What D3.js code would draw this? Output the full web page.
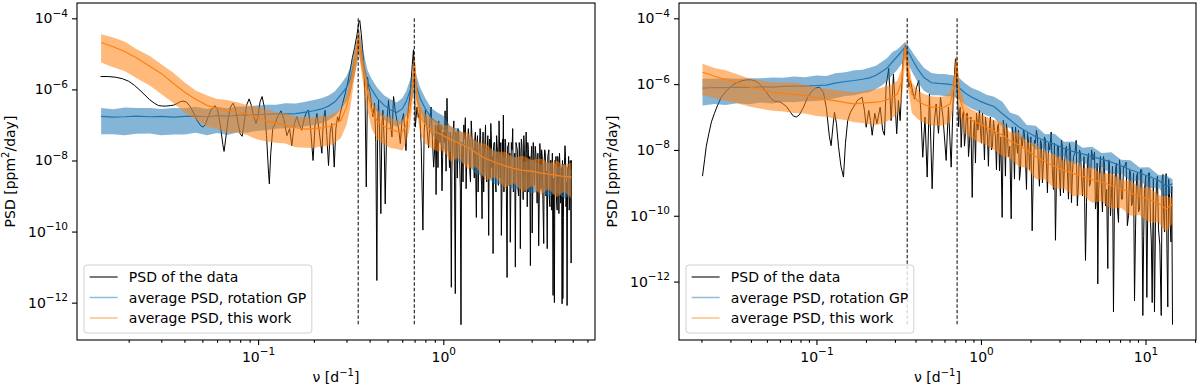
<!DOCTYPE html>
<html>
<head>
<meta charset="utf-8">
<script src="https://cdn.jsdelivr.net/npm/d3@7"></script>
<style>
  body { margin: 0; background: #fff; }
  text { font-family: "DejaVu Sans", sans-serif; }
</style>
</head>
<body>
<svg id="chart" width="1200" height="389"></svg>
<script>
// ---- left panel: band frequencies and averaged PSDs (ppm^2/day) ----
var freqBandL = [0.0142, 0.0165, 0.019, 0.022, 0.026, 0.030, 0.035, 0.040,
  0.046, 0.053, 0.060, 0.068, 0.077, 0.087, 0.098, 0.11,
  0.125, 0.14, 0.16, 0.18, 0.20, 0.22, 0.24, 0.26,
  0.28, 0.30, 0.315, 0.33, 0.34, 0.35, 0.36, 0.375,
  0.39, 0.41, 0.44, 0.48, 0.52, 0.56, 0.60, 0.63,
  0.66, 0.68, 0.70, 0.72, 0.75, 0.80, 0.86, 0.93,
  1.0, 1.1, 1.2, 1.35, 1.5, 1.7, 1.9, 2.15,
  2.4, 2.7, 3.0, 3.35, 3.7, 4.1, 4.5, 4.92];
var blueMedL = [1.74e-7, 1.66e-7, 1.7e-7, 1.78e-7, 1.7e-7, 1.74e-7, 1.66e-7, 1.74e-7,
  1.78e-7, 1.7e-7, 1.82e-7, 1.78e-7, 1.86e-7, 1.91e-7, 1.95e-7, 2.0e-7,
  2.04e-7, 2.04e-7, 2.09e-7, 2.29e-7, 2.51e-7, 2.82e-7, 3.39e-7, 4.47e-7,
  7.08e-7, 1.12e-6, 2.0e-6, 5.62e-6, 1.12e-5, 2.4e-5, 1.12e-5, 3.98e-6,
  1.66e-6, 1.0e-6, 5.62e-7, 3.55e-7, 2.63e-7, 2.24e-7, 2.82e-7, 4.47e-7,
  8.91e-7, 1.41e-6, 2.19e-6, 1.12e-6, 5.62e-7, 2.82e-7, 1.58e-7, 1.12e-7,
  7.94e-8, 5.01e-8, 3.55e-8, 2.51e-8, 1.66e-8, 1.12e-8, 8.91e-9, 7.08e-9,
  6.03e-9, 5.25e-9, 4.79e-9, 4.37e-9, 3.98e-9, 3.72e-9, 3.47e-9, 3.16e-9];
var blueHiL = [3.02e-7, 2.75e-7, 3.09e-7, 3.02e-7, 3.02e-7, 2.82e-7, 3.02e-7, 2.95e-7,
  3.24e-7, 2.82e-7, 3.24e-7, 2.95e-7, 3.31e-7, 3.24e-7, 3.55e-7, 3.72e-7,
  3.72e-7, 4.07e-7, 3.98e-7, 4.47e-7, 5.01e-7, 5.62e-7, 6.76e-7, 8.91e-7,
  1.41e-6, 2.34e-6, 4.27e-6, 1.2e-5, 2.45e-5, 5.25e-5, 2.45e-5, 8.51e-6,
  3.47e-6, 2.0e-6, 1.12e-6, 6.76e-7, 5.25e-7, 4.27e-7, 5.62e-7, 8.91e-7,
  1.78e-6, 2.82e-6, 4.37e-6, 2.24e-6, 1.12e-6, 5.62e-7, 3.02e-7, 2.24e-7,
  1.8e-7, 8.7e-8, 7.9e-8, 4.4e-8, 3.8e-8, 1.95e-8, 2.0e-8, 1.23e-8,
  1.38e-8, 9.1e-9, 1.07e-8, 7.6e-9, 9.1e-9, 6.4e-9, 7.8e-9, 5.5e-9];
var blueLoL = [5.5e-8, 5.5e-8, 5.13e-8, 5.62e-8, 5.75e-8, 5.13e-8, 5.37e-8, 5.37e-8,
  6.03e-8, 5.13e-8, 5.89e-8, 5.25e-8, 6.17e-8, 6.03e-8, 6.76e-8, 7.08e-8,
  7.76e-8, 8.13e-8, 8.32e-8, 9.12e-8, 1.0e-7, 1.12e-7, 1.35e-7, 1.78e-7,
  2.82e-7, 4.47e-7, 7.94e-7, 2.24e-6, 4.68e-6, 1.0e-5, 4.68e-6, 1.66e-6,
  6.61e-7, 3.98e-7, 2.24e-7, 1.41e-7, 1.05e-7, 8.91e-8, 1.12e-7, 1.78e-7,
  3.55e-7, 5.62e-7, 8.71e-7, 4.47e-7, 2.24e-7, 1.07e-7, 5.62e-8, 3.72e-8,
  2.1e-8, 1.7e-8, 8.9e-9, 8.3e-9, 4.1e-9, 3.6e-9, 2.1e-9, 2.3e-9,
  1.5e-9, 1.74e-9, 1.18e-9, 1.4e-9, 9.6e-10, 1.22e-9, 8.5e-10, 1.07e-9];
var orangeMedL = [2.09e-5, 1.58e-5, 1.17e-5, 7.76e-6, 4.47e-6, 2.82e-6, 1.45e-6, 8.51e-7,
  5.25e-7, 3.55e-7, 2.95e-7, 2.51e-7, 2.34e-7, 2.09e-7, 1.66e-7, 1.32e-7,
  1.12e-7, 1.0e-7, 8.32e-8, 7.59e-8, 7.94e-8, 8.32e-8, 8.91e-8, 1.05e-7,
  1.35e-7, 3.16e-7, 9.33e-7, 5.01e-6, 1.12e-5, 2.88e-5, 8.91e-6, 2.51e-6,
  7.94e-7, 2.51e-7, 1.26e-7, 8.91e-8, 7.59e-8, 6.61e-8, 6.31e-8, 1.0e-7,
  2.51e-7, 1.0e-6, 5.37e-6, 6.31e-7, 1.78e-7, 1.0e-7, 7.08e-8, 6.03e-8,
  5.01e-8, 3.8e-8, 3.16e-8, 2.4e-8, 1.66e-8, 1.12e-8, 8.91e-9, 7.08e-9,
  6.03e-9, 5.25e-9, 5.01e-9, 4.47e-9, 4.17e-9, 3.8e-9, 3.55e-9, 3.39e-9];
var orangeHiL = [3.55e-5, 2.88e-5, 2.24e-5, 1.38e-5, 8.71e-6, 5.13e-6, 2.88e-6, 1.58e-6,
  9.33e-7, 6.76e-7, 5.37e-7, 5.01e-7, 4.37e-7, 3.63e-7, 3.31e-7, 2.82e-7,
  2.24e-7, 2.14e-7, 1.66e-7, 1.66e-7, 1.58e-7, 1.78e-7, 1.78e-7, 2.19e-7,
  2.82e-7, 6.61e-7, 1.95e-6, 1.05e-5, 2.24e-5, 5.75e-5, 1.78e-5, 5.25e-6,
  1.66e-6, 5.01e-7, 2.63e-7, 1.78e-7, 1.62e-7, 1.32e-7, 1.32e-7, 2.09e-7,
  5.25e-7, 2.0e-6, 1.07e-5, 1.26e-6, 3.72e-7, 2.0e-7, 1.58e-7, 1.26e-7,
  1.0e-7, 9.5e-8, 6.4e-8, 6.1e-8, 3.46e-8, 2.85e-8, 1.8e-8, 1.75e-8,
  1.22e-8, 1.35e-8, 1.04e-8, 1.15e-8, 8.5e-9, 9.8e-9, 7.2e-9, 8.8e-9];
var orangeLoL = [5.75e-6, 4.17e-6, 3.31e-6, 2.09e-6, 1.29e-6, 7.41e-7, 4.07e-7, 2.24e-7,
  1.45e-7, 8.91e-8, 7.76e-8, 6.03e-8, 6.17e-8, 5.25e-8, 3.98e-8, 3.47e-8,
  3.16e-8, 3.02e-8, 2.34e-8, 2.29e-8, 2.24e-8, 2.51e-8, 2.51e-8, 3.16e-8,
  4.27e-8, 1.0e-7, 3.09e-7, 1.78e-6, 4.47e-6, 1.15e-5, 3.39e-6, 8.32e-7,
  2.51e-7, 7.94e-8, 3.8e-8, 2.82e-8, 2.24e-8, 2.09e-8, 1.91e-8, 3.16e-8,
  8.32e-8, 3.55e-7, 2.14e-6, 2.24e-7, 5.62e-8, 3.02e-8, 2.24e-8, 1.78e-8,
  1.9e-8, 9.2e-9, 1.2e-8, 5.9e-9, 6.4e-9, 2.8e-9, 3.4e-9, 1.7e-9,
  2.3e-9, 1.3e-9, 1.9e-9, 1.08e-9, 1.58e-9, 9.3e-10, 1.34e-9, 8.5e-10];

// left panel: periodogram of the data, [frequency, PSD]
var psdMainL = [[0.0141,2.3e-6],[0.0155,2.3e-6],[0.0170,2.2e-6],[0.0185,2.0e-6],[0.0200,1.7e-6],[0.0215,1.3e-6],[0.0230,9.5e-7],[0.0245,6.9e-7],[0.0260,5.1e-7],[0.0275,4.1e-7],
  [0.0290,3.5e-7],[0.0305,3.4e-7],[0.0320,3.4e-7],[0.0335,3.5e-7],[0.0350,3.6e-7],[0.0365,4.0e-7],[0.0380,4.5e-7],[0.0393,4.7e-7],[0.0410,4.4e-7],[0.0430,3.3e-7],
  [0.0450,2.1e-7],[0.0470,1.3e-7],[0.0490,9.5e-8],[0.0505,8.7e-8],[0.0520,1.05e-7],[0.0540,1.8e-7],[0.0560,2.8e-7],[0.0586,3.5e-7],[0.0605,2.5e-7],[0.0625,1.0e-7],
  [0.0645,2.8e-8],[0.0655,1.8e-8],[0.0668,4.0e-8],[0.0690,1.6e-7],[0.0710,3.2e-7],[0.0733,4.1e-7],[0.0755,2.8e-7],[0.0780,1.1e-7],[0.0800,5.6e-8],[0.0820,4.8e-8],
  [0.0840,1.1e-7],[0.0865,3.5e-7],[0.0894,5.4e-7],[0.0920,3.5e-7],[0.0950,1.6e-7],[0.0975,1.1e-7],[0.1000,1.8e-7],[0.1025,4.5e-7],[0.1051,6.3e-7],[0.1080,3.2e-7],
  [0.1110,5.0e-8],[0.1140,4.0e-9],[0.1150,2.2e-9],[0.1170,1.6e-8],[0.1200,7.9e-8],[0.1236,1.1e-7],[0.1280,1.8e-7],[0.1330,2.5e-7],[0.1380,1.4e-7],[0.1430,5.0e-8],
  [0.1480,7.9e-8],[0.1520,2.6e-8],[0.1570,1.1e-7],[0.1620,1.7e-7],[0.1670,1.0e-7],[0.1720,7.1e-8],[0.1780,1.6e-7],[0.1830,2.4e-7],[0.1870,2.6e-7],[0.1920,7.9e-8],
  [0.1980,1.0e-8],[0.2030,1.0e-7],[0.2077,2.1e-7],[0.2140,6.3e-8],[0.2210,1.6e-8],[0.2250,1.3e-7],[0.2300,2.6e-7],[0.2350,5.0e-8],[0.2400,7.2e-9],[0.2450,6.3e-8],
  [0.2500,1.1e-7],[0.2540,3.2e-8],[0.2576,6.5e-9],[0.2630,7.9e-8],[0.2685,1.7e-7],[0.2730,1.3e-7],[0.2775,2.1e-7],[0.2860,4.0e-7],[0.2953,7.6e-7],[0.3050,1.6e-6],
  [0.3143,3.5e-6],[0.3230,7.9e-6],[0.3320,1.5e-5],[0.3420,3.5e-5],[0.3500,7.9e-5],[0.3540,8.7e-5],[0.3605,3.7e-5],[0.3710,6.6e-6],[0.3780,6.3e-7],[0.3837,1.8e-9],
  [0.3900,2.2e-6],[0.3960,1.1e-6],[0.4030,7.6e-7],[0.4100,3.2e-7],[0.4170,1.7e-7],[0.4254,4.1e-7],[0.4320,3.2e-8],[0.4378,4.2e-12],[0.4420,1.0e-7],[0.4469,4.9e-7],
  [0.4530,6.3e-8],[0.4600,3.2e-10],[0.4660,1.0e-7],[0.4720,2.6e-7],[0.4790,4.0e-8],[0.4856,6.0e-10],[0.4950,1.0e-7],[0.5060,4.9e-7],[0.5170,1.3e-7],[0.5280,4.6e-8],
  [0.5387,6.3e-7],[0.5500,2.5e-7],[0.5620,1.3e-7],[0.5740,7.9e-8],[0.5860,3.0e-8],[0.5980,1.3e-7],[0.6100,2.1e-7],[0.6200,6.3e-8],[0.6286,1.9e-8],[0.6390,1.3e-7],
  [0.6490,3.2e-7],[0.6600,6.3e-7],[0.6690,1.5e-6],[0.6800,5.0e-6],[0.6900,1.3e-5],[0.6980,2.5e-6],[0.7060,8.7e-8],[0.7210,3.2e-7],[0.7330,1.6e-7],[0.7450,2.6e-7],
  [0.7600,2.5e-8],[0.7760,1.1e-10],[0.7880,6.3e-8],[0.8000,2.6e-7],[0.8170,7.9e-8],[0.8330,2.3e-8],[0.8460,1.3e-7],[0.8590,3.2e-7],[0.8730,4.0e-8],[0.8870,6.5e-9],
  [0.9000,2.5e-8],[0.9140,1.1e-9],[0.9290,1.0e-7],[0.9440,1.3e-7],[0.9600,3.2e-8],[0.9840,1.4e-9],[1.0000,6.3e-8],[1.0230,2.5e-7],[1.0470,5.6e-7],[1.0600,5.0e-8],
  [1.0800,6.3e-9],[1.1050,2.7e-12],[1.1200,4.0e-8],[1.1400,1.3e-7],[1.1610,1.8e-12],[1.1800,2.5e-8],[1.2000,7.9e-8],[1.2250,1.0e-8],[1.2460,2.4e-13],[1.2650,3.2e-8],
  [1.2900,1.0e-7],[1.3150,1.6e-7],[1.3400,1.6e-8],[1.3650,7.9e-8],[1.3900,5.0e-9],[1.4150,1.3e-7],[1.4400,2.5e-8],[1.4700,3.2e-9],[1.4900,6.3e-8],[1.5080,2.5e-10],
  [1.5300,5.0e-8],[1.5550,1.3e-8],[1.5800,7.9e-8],[1.6000,4.0e-9],[1.6190,2.3e-10],[1.6400,6.3e-8],[1.6650,1.6e-8],[1.6900,1.0e-7],[1.7150,2.5e-9],[1.7400,5.0e-8],
  [1.7580,7.8e-11],[1.7800,4.0e-8],[1.8050,1.1e-7],[1.8300,6.3e-9],[1.8570,2.4e-11],[1.8800,3.2e-8],[1.9100,2.5e-9],[1.9400,5.0e-8],[1.9700,1.0e-8],[2.0000,1.3e-7],
  [2.0300,3.2e-9],[2.0580,7.8e-11],[2.0900,4.0e-8],[2.1100,1.9e-7],[2.1400,5.0e-9],[2.1700,3.2e-8],[2.2100,5.1e-12],[2.2400,2.5e-8],[2.2700,2.0e-9],[2.3000,5.0e-11],
  [2.3300,3.2e-8],[2.3700,7.9e-8],[2.4100,4.0e-9],[2.4490,1.0e-11],[2.4900,2.5e-8],[2.5300,1.6e-9],[2.5700,3.2e-8],[2.6060,3.3e-11],[2.6400,4.0e-8],[2.6800,3.2e-9],
  [2.7200,5.0e-8],[2.7600,1.3e-9],[2.8000,6.3e-8],[2.8400,5.0e-10],[2.8800,2.0e-8],[2.9100,2.5e-9],[2.9530,1.1e-11],[3.0000,2.5e-8],[3.0200,9.1e-11],[3.0600,3.2e-8],
  [3.1100,2.0e-9],[3.1600,1.6e-8],[3.2100,6.3e-10],[3.2740,4.0e-11],[3.3200,3.0e-8],[3.3700,1.6e-9],[3.4200,1.3e-8],[3.4850,4.6e-11],[3.5300,2.0e-8],[3.5800,1.0e-9],
  [3.6400,3.3e-11],[3.6900,1.6e-8],[3.7400,7.9e-10],[3.7900,1.0e-8],[3.8500,4.0e-10],[3.9150,1.6e-12],[3.9800,1.0e-12],[4.0300,7.9e-9],[4.0900,6.3e-10],[4.1500,1.3e-8],
  [4.2100,3.2e-10],[4.2700,6.3e-9],[4.3300,1.0e-9],[4.3800,9.3e-13],[4.4200,1.3e-12],[4.4800,7.9e-9],[4.5400,2.6e-8],[4.6000,5.0e-10],[4.6600,8.3e-13],[4.7200,5.0e-9],
  [4.7800,4.0e-10],[4.8400,1.0e-8],[4.9000,1.3e-11],[4.9200,1.0e-9]];
// in-between periodogram bins of the dense high-frequency part
var psdFillL = [[0.907,1.0e-7],[0.921,5.0e-8],[0.936,6.3e-9],[0.952,7.9e-8],[0.972,1.0e-7],[0.992,1.3e-8],[1.012,3.2e-8],[1.035,5.0e-9],[1.053,1.0e-7],[1.07,2.5e-8],
  [1.092,6.3e-8],[1.112,4.0e-9],[1.13,5.0e-8],[1.15,2.5e-9],[1.17,6.3e-8],[1.19,3.2e-9],[1.212,5.0e-8],[1.236,1.6e-9],[1.255,1.6e-8],[1.278,2.5e-9],
  [1.302,4.0e-8],[1.328,1.6e-9],[1.352,3.2e-8],[1.378,4.0e-8],[1.402,2.5e-9],[1.428,5.0e-8],[1.455,2.0e-8],[1.48,4.0e-8],[1.5,1.6e-9],[1.52,3.2e-8],
  [1.542,1.3e-9],[1.568,2.5e-8],[1.59,5.0e-8],[1.61,2.0e-9],[1.63,2.0e-8],[1.652,1.3e-9],[1.678,3.2e-8],[1.702,5.0e-9],[1.728,2.5e-8],[1.75,1.6e-9],
  [1.77,3.2e-8],[1.792,3.2e-9],[1.818,4.0e-8],[1.843,1.3e-8],[1.868,2.5e-8],[1.895,3.2e-8],[1.925,1.3e-9],[1.955,2.5e-8],[1.985,2.0e-9],[2.015,2.0e-8],
  [2.044,3.2e-8],[2.074,1.6e-9],[2.1,1.6e-8],[2.125,1.3e-9],[2.155,4.0e-8],[2.19,1.6e-9],[2.225,2.5e-8],[2.255,3.2e-8],[2.285,1.6e-8],[2.315,1.3e-9],
  [2.35,2.0e-8],[2.39,1.3e-9],[2.43,1.6e-8],[2.47,3.2e-8],[2.51,2.0e-8],[2.55,1.0e-9],[2.588,2.0e-8],[2.623,1.0e-8],[2.66,2.5e-8],[2.7,7.9e-10],
  [2.74,2.0e-8],[2.78,6.3e-9],[2.82,1.6e-8],[2.86,3.2e-8],[2.895,1.3e-9],[2.93,1.3e-8],[2.975,1.0e-8],[3.01,2.0e-8],[3.04,1.3e-9],[3.085,1.3e-8],
  [3.135,2.5e-8],[3.185,7.9e-9],[3.24,1.6e-8],[3.295,6.3e-10],[3.345,1.3e-8],[3.395,2.0e-8],[3.45,7.9e-10],[3.505,1.0e-8],[3.555,1.6e-8],[3.61,5.0e-9],
  [3.665,1.3e-8],[3.715,2.0e-8],[3.765,5.0e-10],[3.82,1.0e-8],[3.88,1.6e-8],[3.945,3.2e-9],[4.005,1.0e-8],[4.06,1.3e-8],[4.12,4.0e-10],[4.18,7.9e-9],
  [4.24,1.6e-8],[4.3,6.3e-10],[4.355,6.3e-9],[4.4,1.0e-8],[4.45,2.5e-10],[4.51,7.9e-9],[4.57,1.3e-8],[4.63,2.5e-9],[4.69,6.3e-9],[4.75,1.3e-8],
  [4.81,5.0e-10],[4.87,5.0e-9],[4.91,1.0e-8]];

// ---- right panel ----
var freqBandR = [0.0203, 0.024, 0.028, 0.033, 0.039, 0.046, 0.054, 0.063,
  0.073, 0.085, 0.10, 0.115, 0.13, 0.15, 0.17, 0.19,
  0.21, 0.23, 0.25, 0.27, 0.29, 0.31, 0.33, 0.345,
  0.36, 0.38, 0.41, 0.45, 0.50, 0.55, 0.60, 0.65,
  0.69, 0.71, 0.74, 0.80, 0.88, 0.97, 1.08, 1.2,
  1.35, 1.5, 1.7, 1.9, 2.15, 2.45, 2.8, 3.2,
  3.65, 4.15, 4.75, 5.4, 6.2, 7.1, 8.1, 9.2,
  10.5, 12.0, 13.3, 14.6];
var blueMedR = [7.6e-7, 7.9e-7, 7.8e-7, 8.1e-7, 7.9e-7, 8.3e-7, 8.1e-7, 8.5e-7,
  8.7e-7, 8.7e-7, 9.1e-7, 9.3e-7, 1.07e-6, 1.2e-6, 1.29e-6, 1.41e-6,
  1.55e-6, 1.86e-6, 2.4e-6, 3.16e-6, 4.79e-6, 6.92e-6, 1.0e-5, 1.32e-5,
  1.0e-5, 6.03e-6, 3.02e-6, 1.58e-6, 1.1e-6, 1.05e-6, 1.02e-6, 9.8e-7,
  9.1e-7, 8.7e-7, 7.6e-7, 5.4e-7, 4.0e-7, 3.16e-7, 2.51e-7, 2.09e-7,
  1.26e-7, 8.3e-8, 5.0e-8, 3.55e-8, 2.51e-8, 1.91e-8, 1.48e-8, 1.12e-8,
  8.9e-9, 7.6e-9, 6.3e-9, 5.25e-9, 4.27e-9, 3.31e-9, 2.51e-9, 2.0e-9,
  1.58e-9, 1.2e-9, 7.9e-10, 9.3e-10];
var blueHiR = [1.45e-6, 1.45e-6, 1.51e-6, 1.45e-6, 1.51e-6, 1.51e-6, 1.58e-6, 1.55e-6,
  1.7e-6, 1.62e-6, 1.82e-6, 1.78e-6, 2.14e-6, 2.29e-6, 2.63e-6, 2.75e-6,
  3.16e-6, 3.63e-6, 4.79e-6, 6.31e-6, 9.55e-6, 1.12e-5, 1.51e-5, 1.86e-5,
  1.51e-5, 1.0e-5, 5.75e-6, 3.16e-6, 2.19e-6, 2.04e-6, 2.04e-6, 1.91e-6,
  1.82e-6, 1.74e-6, 1.51e-6, 1.07e-6, 7.6e-7, 6.31e-7, 4.79e-7, 4.17e-7,
  2.9e-7, 1.37e-7, 1.1e-7, 5.7e-8, 5.4e-8, 3.0e-8, 3.1e-8, 1.77e-8,
  1.8e-8, 1.17e-8, 1.26e-8, 8.1e-9, 8.5e-9, 5.0e-9, 4.9e-9, 2.95e-9,
  3.0e-9, 1.74e-9, 1.7e-9, 1.29e-9];
var blueLoR = [2.24e-7, 2.51e-7, 2.34e-7, 2.63e-7, 2.45e-7, 2.75e-7, 2.57e-7, 2.88e-7,
  2.82e-7, 3.02e-7, 3.09e-7, 3.31e-7, 3.72e-7, 4.37e-7, 4.57e-7, 5.25e-7,
  5.62e-7, 7.08e-7, 9.12e-7, 1.26e-6, 1.91e-6, 2.75e-6, 4.17e-6, 5.89e-6,
  4.17e-6, 2.4e-6, 1.2e-6, 6.31e-7, 4.57e-7, 4.57e-7, 4.37e-7, 4.27e-7,
  3.98e-7, 3.8e-7, 3.31e-7, 2.4e-7, 1.78e-7, 1.45e-7, 1.12e-7, 9.55e-8,
  4.9e-8, 4.7e-8, 2.0e-8, 2.0e-8, 1.03e-8, 1.1e-8, 6.2e-9, 6.4e-9,
  3.7e-9, 4.5e-9, 2.7e-9, 3.1e-9, 1.83e-9, 2.0e-9, 1.08e-9, 1.2e-9,
  6.9e-10, 7.2e-10, 3.5e-10, 5.6e-10];
var orangeMedR = [2.29e-6, 1.74e-6, 1.38e-6, 1.1e-6, 8.32e-7, 6.76e-7, 5.62e-7, 5.25e-7,
  4.9e-7, 4.47e-7, 3.8e-7, 3.39e-7, 3.16e-7, 2.75e-7, 2.51e-7, 2.63e-7,
  2.75e-7, 2.82e-7, 3.02e-7, 3.39e-7, 3.98e-7, 5.01e-7, 1.26e-6, 1.32e-5,
  3.16e-6, 5.01e-7, 3.16e-7, 2.4e-7, 2.0e-7, 1.95e-7, 2.0e-7, 2.51e-7,
  1.0e-6, 5.62e-6, 3.98e-7, 1.12e-7, 7.94e-8, 6.31e-8, 5.01e-8, 3.8e-8,
  2.82e-8, 1.91e-8, 1.41e-8, 1.0e-8, 6.31e-9, 4.47e-9, 3.16e-9, 2.4e-9,
  1.91e-9, 1.58e-9, 1.26e-9, 1.05e-9, 8.32e-10, 6.61e-10, 5.01e-10, 3.98e-10,
  3.16e-10, 2.4e-10, 1.62e-10, 2.29e-10];
var orangeHiR = [4.17e-6, 3.09e-6, 2.63e-6, 2.0e-6, 1.48e-6, 1.29e-6, 1.12e-6, 1.12e-6,
  1.12e-6, 9.55e-7, 7.94e-7, 7.24e-7, 6.61e-7, 6.03e-7, 5.62e-7, 6.03e-7,
  6.61e-7, 7.08e-7, 7.94e-7, 8.91e-7, 1.0e-6, 1.26e-6, 3.16e-6, 2.09e-5,
  7.94e-6, 1.12e-6, 6.76e-7, 5.01e-7, 4.27e-7, 4.07e-7, 4.27e-7, 5.37e-7,
  2.14e-6, 1.0e-5, 8.51e-7, 2.4e-7, 1.66e-7, 1.35e-7, 1.02e-7, 8.13e-8,
  6.7e-8, 3.46e-8, 3.4e-8, 1.82e-8, 1.5e-8, 8.1e-9, 7.4e-9, 4.36e-9,
  4.5e-9, 2.8e-9, 2.9e-9, 1.86e-9, 2.0e-9, 1.17e-9, 1.17e-9, 7.1e-10,
  7.4e-10, 4.2e-10, 3.9e-10, 3.5e-10];
var orangeLoR = [4.57e-7, 3.8e-7, 3.16e-7, 2.63e-7, 2.09e-7, 1.78e-7, 1.55e-7, 1.48e-7,
  1.32e-7, 1.29e-7, 1.07e-7, 1.02e-7, 8.91e-8, 8.13e-8, 6.92e-8, 6.61e-8,
  6.03e-8, 5.62e-8, 6.31e-8, 7.41e-8, 9.55e-8, 1.26e-7, 3.16e-7, 4.17e-6,
  7.94e-7, 1.32e-7, 8.91e-8, 6.61e-8, 5.62e-8, 5.37e-8, 5.62e-8, 6.92e-8,
  2.82e-7, 1.78e-6, 1.12e-7, 3.09e-8, 2.24e-8, 1.7e-8, 1.41e-8, 1.0e-8,
  6.5e-9, 5.7e-9, 3.1e-9, 2.9e-9, 1.32e-9, 1.26e-9, 6.6e-10, 6.6e-10,
  3.9e-10, 4.3e-10, 2.5e-10, 2.75e-10, 1.6e-10, 1.74e-10, 1.0e-10, 1.05e-10,
  6.2e-11, 6.3e-11, 3.2e-11, 6.0e-11];

var psdMainR = [[0.0203,1.6e-9],[0.0209,5.0e-9],[0.0214,1.3e-8],[0.0222,3.2e-8],[0.0230,7.1e-8],[0.0240,1.3e-7],[0.0250,2.2e-7],[0.0264,4.0e-7],[0.0284,6.3e-7],[0.0309,9.3e-7],
  [0.0340,1.2e-6],[0.0375,1.35e-6],[0.0403,1.35e-6],[0.0432,1.2e-6],[0.0463,8.9e-7],[0.0497,5.6e-7],[0.0525,3.8e-7],[0.0556,3.0e-7],[0.0588,3.0e-7],[0.0621,2.6e-7],
  [0.0657,2.1e-7],[0.0695,1.4e-7],[0.0724,1.07e-7],[0.0755,1.0e-7],[0.0788,1.17e-7],[0.0834,2.0e-7],[0.0881,3.8e-7],[0.0933,6.0e-7],[0.0986,7.6e-7],[0.1043,8.1e-7],
  [0.1104,5.6e-7],[0.1150,1.8e-7],[0.1199,2.5e-8],[0.1228,1.35e-8],[0.1259,5.0e-8],[0.1287,1.4e-7],[0.1323,6.3e-8],[0.1361,1.3e-8],[0.1409,3.2e-9],[0.1460,1.5e-9],
  [0.1501,1.6e-8],[0.1549,7.8e-8],[0.1609,1.4e-7],[0.1679,2.0e-7],[0.1775,3.2e-7],[0.1896,4.0e-7],[0.1958,1.6e-7],[0.2006,4.9e-8],[0.2080,1.6e-7],[0.2130,7.9e-8],
  [0.2182,2.8e-8],[0.2262,1.3e-7],[0.2333,6.3e-8],[0.2439,2.0e-7],[0.2529,3.9e-8],[0.2591,2.8e-8],[0.2652,9.1e-7],[0.2750,3.0e-6],[0.2843,7.8e-8],[0.2938,2.0e-6],
  [0.3021,1.6e-7],[0.3076,3.1e-8],[0.3149,3.2e-7],[0.3226,7.8e-8],[0.3348,4.0e-6],[0.3426,1.1e-5],[0.3476,1.5e-5],[0.3549,5.0e-6],[0.3640,8.1e-7],[0.3727,1.26e-6],
  [0.3834,6.3e-7],[0.3944,3.5e-7],[0.4057,7.9e-7],[0.4188,1.3e-6],[0.4306,1.6e-7],[0.4428,6.0e-9],[0.4569,1.0e-7],[0.4710,1.5e-9],[0.4863,5.0e-7],[0.5050,6.6e-10],
  [0.5191,6.3e-8],[0.5341,2.5e-7],[0.5517,3.2e-8],[0.5675,4.0e-7],[0.5876,1.0e-7],[0.6143,4.8e-9],[0.6343,2.0e-7],[0.6591,3.0e-9],[0.6761,2.5e-7],[0.6903,2.0e-6],
  [0.6999,5.9e-6],[0.7224,3.2e-7],[0.7401,1.6e-7],[0.7580,1.2e-8],[0.7829,1.6e-7],[0.8050,3.2e-8],[0.8280,1.3e-7],[0.8515,1.6e-8],[0.8846,3.6e-10],[0.9124,7.9e-8],
  [0.9390,1.3e-7],[0.9792,1.6e-7],[1.007,1.6e-8],[1.036,4.0e-8],[1.065,1.0e-7],[1.095,2.5e-8],[1.126,6.3e-8],[1.158,1.0e-8],[1.191,7.9e-8],[1.225,2.5e-8],
  [1.260,5.0e-8],[1.296,2.3e-9],[1.345,8.9e-11],[1.389,4.0e-8],[1.428,6.3e-8],[1.469,6.3e-9],[1.526,8.1e-11],[1.576,2.5e-8],[1.621,5.0e-8],[1.667,7.9e-9],
  [1.714,1.2e-9],[1.763,2.5e-8],[1.813,4.0e-8],[1.865,5.0e-9],[1.918,3.2e-8],[1.972,2.5e-9],[2.047,3.5e-11],[2.113,2.0e-8],[2.173,4.0e-8],[2.235,3.2e-9],
  [2.299,2.0e-8],[2.364,1.0e-9],[2.431,2.5e-8],[2.500,4.0e-9],[2.571,1.6e-8],[2.671,3.5e-8],[2.757,6.3e-10],[2.836,1.8e-11],[2.916,1.3e-8],[2.999,1.6e-9],
  [3.084,2.0e-8],[3.172,5.0e-10],[3.262,1.0e-8],[3.355,2.0e-9],[3.450,1.6e-8],[3.548,2.5e-10],[3.649,6.3e-9],[3.790,1.95e-8],[3.915,1.0e-9],[4.026,7.9e-9],
  [4.141,4.0e-10],[4.318,4.4e-12],[4.441,5.0e-9],[4.567,7.9e-10],[4.697,1.0e-8],[4.897,8.5e-9],[5.036,3.2e-10],[5.128,8.5e-13],[5.250,2.5e-9],[5.400,6.3e-10],
  [5.553,6.3e-9],[5.711,2.0e-10],[5.900,2.5e-12],[6.040,4.0e-9],[6.212,5.0e-10],[6.388,1.2e-13],[6.570,2.5e-9],[6.757,1.6e-10],[6.949,5.0e-9],[7.146,3.2e-10],
  [7.349,3.2e-9],[7.631,4.3e-9],[7.884,1.0e-10],[8.108,2.0e-9],[8.339,2.5e-10],[8.576,2.6e-13],[8.819,1.6e-9],[9.070,1.3e-10],[9.328,2.5e-9],[9.633,9.3e-14],
  [9.862,6.3e-10],[10.19,3.3e-13],[10.43,2.0e-9],[10.73,6.3e-11],[10.98,2.3e-13],[11.34,1.2e-13],[11.66,1.0e-9],[11.99,4.0e-11],[12.46,9.3e-14],[12.77,1.8e-9],
  [13.04,3.2e-11],[13.35,1.9e-9],[13.66,1.7e-13],[13.99,5.0e-10],[14.29,1.6e-11],[14.59,4.9e-14]];
var psdFillR = [[0.7312,5.0e-8],[0.749,2.0e-7],[0.7705,1.0e-7],[0.794,1.3e-8],[0.8165,1.3e-7],[0.84,6.3e-9],[0.868,1.0e-7],[0.898,2.5e-8],[0.926,4.0e-9],[0.959,4.0e-8],
  [0.993,4.0e-8],[1.021,1.3e-7],[1.05,5.0e-9],[1.08,5.0e-8],[1.11,3.2e-9],[1.142,1.0e-7],[1.175,1.3e-8],[1.208,4.0e-8],[1.242,2.5e-9],[1.278,6.3e-8],
  [1.32,2.5e-8],[1.367,7.9e-8],[1.408,1.6e-9],[1.448,3.2e-8],[1.497,1.3e-8],[1.55,5.0e-8],[1.598,1.3e-9],[1.644,2.0e-8],[1.69,4.0e-8],[1.738,2.5e-9],
  [1.788,1.3e-8],[1.838,3.2e-8],[1.891,6.3e-10],[1.945,2.0e-8],[2.01,2.5e-8],[2.08,2.0e-9],[2.143,1.6e-8],[2.204,2.5e-8],[2.267,7.9e-10],[2.331,1.6e-8],
  [2.397,4.0e-9],[2.465,2.0e-8],[2.535,5.0e-10],[2.62,1.0e-8],[2.714,2.5e-9],[2.796,1.6e-8],[2.876,1.3e-9],[2.957,1.3e-8],[3.041,4.0e-10],[3.128,1.3e-8],
  [3.217,3.2e-9],[3.308,1.3e-8],[3.402,3.2e-10],[3.499,1.0e-8],[3.598,2.0e-9],[3.72,7.9e-9],[3.852,2.0e-10],[3.97,1.0e-8],[4.083,1.6e-9],[4.23,6.3e-9],
  [4.38,2.5e-10],[4.504,7.9e-9],[4.632,1.0e-9],[4.797,5.0e-9],[4.966,1.6e-10],[5.082,4.0e-9],[5.189,5.0e-10],[5.325,6.3e-9],[5.476,1.3e-10],[5.632,4.0e-9],
  [5.805,6.3e-10],[5.97,5.0e-9],[6.126,1.0e-10],[6.3,3.2e-9],[6.479,4.0e-10],[6.663,4.0e-9],[6.853,6.3e-11],[7.047,2.5e-9],[7.247,3.2e-10],[7.49,3.2e-9],
  [7.757,5.0e-11],[7.996,2.5e-9],[8.223,2.0e-10],[8.457,2.0e-9],[8.697,4.0e-11],[8.944,2.0e-9],[9.199,1.6e-10],[9.48,2.5e-9],[9.747,2.5e-11],[10.03,1.6e-9],
  [10.31,1.3e-10],[10.58,2.0e-9],[10.85,1.6e-11],[11.16,1.3e-9],[11.5,6.3e-11],[11.82,1.6e-9],[12.22,1.3e-11],[12.61,1.3e-9],[12.9,1.0e-10],[13.2,1.0e-9],
  [13.5,1.0e-11],[13.82,1.3e-9],[14.14,5.0e-11],[14.44,7.9e-10]];

// rotation frequency and its first harmonic (dashed lines)
var vlinesL = [0.347, 0.697];
var vlinesR = [0.356, 0.716];
var vlineTop = 1e-4;

var yTickValues = [1e-4, 1e-6, 1e-8, 1e-10, 1e-12];
var xTickValuesL = [0.1, 1];
var xTickValuesR = [0.1, 1, 10];
var legendLabels = ["PSD of the data", "average PSD, rotation GP", "average PSD, this work"];

var BLUE = "#1f77b4", ORANGE = "#ff7f0e";
var svg = d3.select("#chart");

function byFreq(d) { return d[0]; }
var dataL = d3.sort(psdMainL.concat(psdFillL), byFreq);
var dataR = d3.sort(psdMainR.concat(psdFillR), byFreq);

// matplotlib-like 5% margins in log space
function logPad(lo, hi) {
  var a = Math.log10(lo), b = Math.log10(hi), p = (b - a) * 0.05;
  return [Math.pow(10, a - p), Math.pow(10, b + p)];
}

function powLabel(sel) {
  sel.each(function(d) {
    var t = d3.select(this);
    var e = Math.round(Math.log10(d));
    t.text(null);
    t.append("tspan").text("10");
    t.append("tspan").attr("dy", -6.5).attr("font-size", 10.5)
      .text(e < 0 ? "\u2212" + (-e) : String(e));
  });
}

function minorTicks(domain) {
  var out = [];
  for (var n = -3; n <= 2; n++) {
    for (var k = 2; k <= 9; k++) {
      var v = k * Math.pow(10, n);
      if (v >= domain[0] && v <= domain[1]) out.push(v);
    }
  }
  return out;
}

function drawPanel(p) {
  var x = d3.scaleLog()
    .domain(logPad(d3.min(p.data, byFreq), d3.max(p.data, byFreq)))
    .range([p.left, p.right]);
  var yMin = d3.min(p.data, function(d) { return d[1]; });
  var y = d3.scaleLog().domain(logPad(yMin, vlineTop)).range([p.bottom, p.top]);

  var g = svg.append("g");
  var clipId = "clip" + p.left;
  svg.append("clipPath").attr("id", clipId).append("rect")
    .attr("x", p.left).attr("y", p.top).attr("width", p.right - p.left).attr("height", p.bottom - p.top);
  var plot = g.append("g").attr("clip-path", "url(#" + clipId + ")");

  // periodogram of the data
  plot.append("path").datum(p.data)
    .attr("d", d3.line().x(function(d) { return x(d[0]); }).y(function(d) { return y(d[1]); }))
    .attr("fill", "none").attr("stroke", "#000").attr("stroke-width", 1);

  function band(lo, hi, color) {
    var area = d3.area()
      .x(function(d, i) { return x(p.freq[i]); })
      .y0(function(d, i) { return y(lo[i]); })
      .y1(function(d, i) { return y(hi[i]); });
    plot.append("path").datum(p.freq).attr("d", area)
      .attr("fill", color).attr("fill-opacity", 0.55).attr("stroke", "none");
  }
  function median(med, color) {
    plot.append("path").datum(med)
      .attr("d", d3.line().x(function(d, i) { return x(p.freq[i]); }).y(function(d) { return y(d); }))
      .attr("fill", "none").attr("stroke", color).attr("stroke-width", 1.2);
  }
  band(p.blueLo, p.blueHi, BLUE);
  median(p.blueMed, BLUE);
  band(p.orangeLo, p.orangeHi, ORANGE);
  median(p.orangeMed, ORANGE);

  // dashed vertical lines
  plot.selectAll(".vl").data(p.vlines).enter().append("line")
    .attr("x1", function(d) { return x(d); }).attr("x2", function(d) { return x(d); })
    .attr("y1", y(vlineTop)).attr("y2", y(yMin))
    .attr("stroke", "#000").attr("stroke-width", 1).attr("stroke-dasharray", "3.5,2");

  // axes
  var xMaj = g.append("g").attr("transform", "translate(0," + p.bottom + ")")
    .call(d3.axisBottom(x).tickValues(p.xTicks).tickSize(5).tickPadding(7));
  xMaj.selectAll("text").call(powLabel);
  g.append("g").attr("transform", "translate(0," + p.bottom + ")")
    .call(d3.axisBottom(x).tickValues(minorTicks(x.domain())).tickSize(2.8).tickFormat(""));
  var yAx = g.append("g").attr("transform", "translate(" + p.left + ",0)")
    .call(d3.axisLeft(y).tickValues(yTickValues).tickSize(5).tickPadding(4));
  yAx.selectAll("text").call(powLabel);
  g.selectAll(".domain").remove();
  g.selectAll(".tick line").attr("stroke", "#000").attr("stroke-width", 1.1);
  g.selectAll(".tick text").attr("font-size", 14).attr("fill", "#000")
    .attr("font-family", "DejaVu Sans, sans-serif");

  // frame
  g.append("rect").attr("x", p.left).attr("y", p.top)
    .attr("width", p.right - p.left).attr("height", p.bottom - p.top)
    .attr("fill", "none").attr("stroke", "#000").attr("stroke-width", 1.1);

  // axis labels
  var xl = g.append("text").attr("x", (p.left + p.right) / 2).attr("y", 382)
    .attr("text-anchor", "middle").attr("font-size", 14);
  xl.append("tspan").text("\u03bd [d");
  xl.append("tspan").attr("dy", -6).attr("font-size", 10).text("\u22121");
  xl.append("tspan").attr("dy", 6).text("]");

  var yl = g.append("text")
    .attr("transform", "translate(" + (p.left - 62) + "," + ((p.top + p.bottom) / 2) + ") rotate(-90)")
    .attr("text-anchor", "middle").attr("font-size", 14);
  yl.append("tspan").text("PSD [ppm");
  yl.append("tspan").attr("dy", -6).attr("font-size", 10).text("2");
  yl.append("tspan").attr("dy", 6).text("/day]");

  // legend
  var lg = g.append("g");
  var box = lg.append("rect");
  var styles = [["#000", 0.7], [BLUE, 0.5], [ORANGE, 0.5]];
  var bx = p.left + 7, bh = 68, by = p.bottom - 7 - bh;
  var maxW = 0;
  legendLabels.forEach(function(lab, i) {
    var cy = by + 12 + i * 20.5;
    lg.append("line").attr("x1", bx + 5.6).attr("x2", bx + 33.6).attr("y1", cy).attr("y2", cy)
      .attr("stroke", styles[i][0]).attr("stroke-opacity", styles[i][1]).attr("stroke-width", 1.5);
    var t = lg.append("text").attr("x", bx + 44.8).attr("y", cy + 5).attr("font-size", 14).text(lab);
    maxW = Math.max(maxW, t.node().getComputedTextLength());
  });
  box.attr("x", bx).attr("y", by).attr("width", 44.8 + maxW + 5.6).attr("height", bh)
    .attr("rx", 3).attr("fill", "#fff").attr("fill-opacity", 0.8)
    .attr("stroke", "#d0d0d0").attr("stroke-width", 1);
}

drawPanel({left: 77, right: 595, top: 3, bottom: 340, data: dataL, freq: freqBandL,
  blueMed: blueMedL, blueLo: blueLoL, blueHi: blueHiL,
  orangeMed: orangeMedL, orangeLo: orangeLoL, orangeHi: orangeHiL,
  vlines: vlinesL, xTicks: xTickValuesL});
drawPanel({left: 679, right: 1196, top: 3, bottom: 340, data: dataR, freq: freqBandR,
  blueMed: blueMedR, blueLo: blueLoR, blueHi: blueHiR,
  orangeMed: orangeMedR, orangeLo: orangeLoR, orangeHi: orangeHiR,
  vlines: vlinesR, xTicks: xTickValuesR});
</script>
</body>
</html>
